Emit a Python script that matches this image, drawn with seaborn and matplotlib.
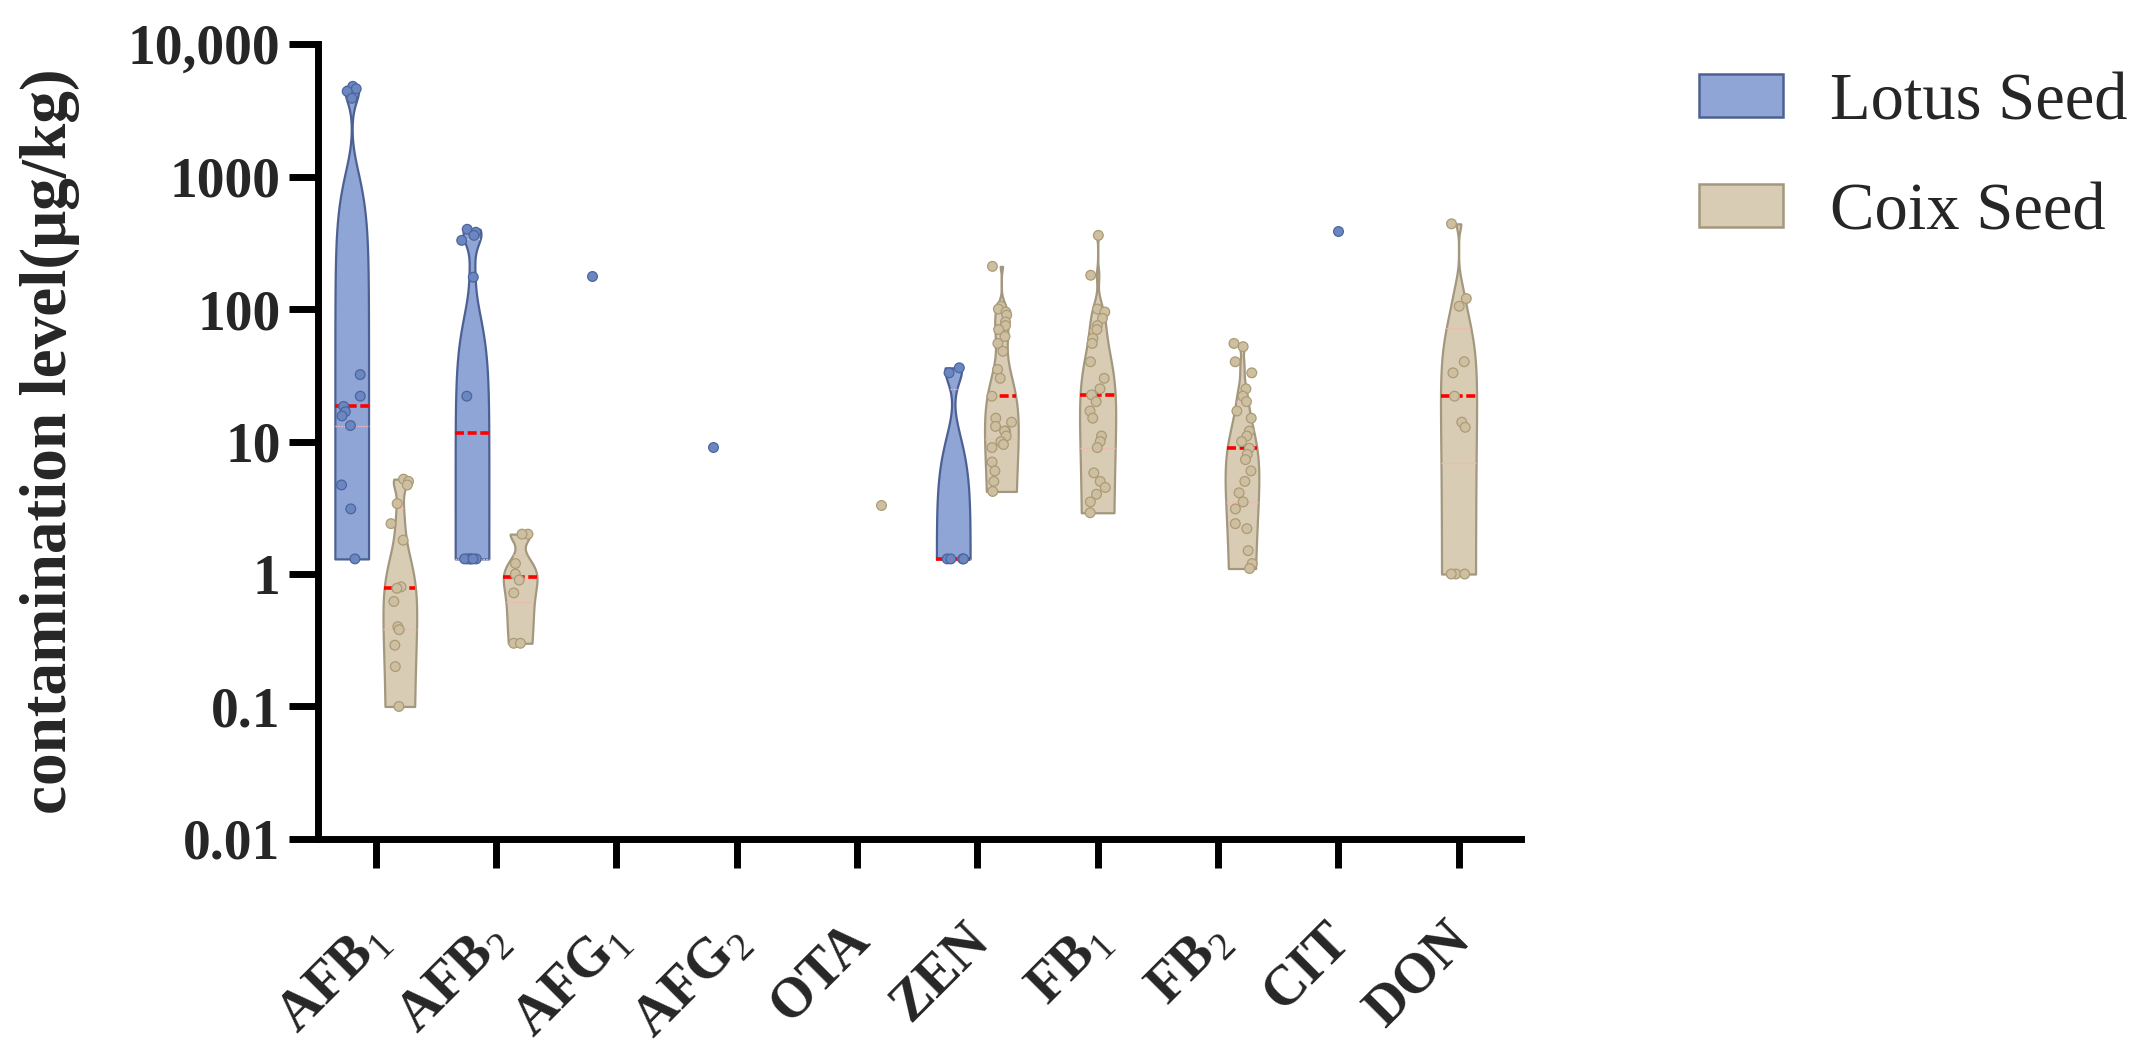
import numpy as np
import pandas as pd
import matplotlib
matplotlib.use("Agg")
import matplotlib.pyplot as plt
import matplotlib.transforms as mtransforms
import seaborn as sns
from matplotlib.patches import Patch
from matplotlib.collections import LineCollection
from matplotlib.ticker import NullLocator

# toxins on the x axis
toxins = ["AFB1", "AFB2", "AFG1", "AFG2", "OTA", "ZEN", "FB1", "FB2", "CIT", "DON"]
tick_labels = ["AFB$_{1}$", "AFB$_{2}$", "AFG$_{1}$", "AFG$_{2}$", "OTA",
               "ZEN", "FB$_{1}$", "FB$_{2}$", "CIT", "DON"]
seeds = ["Lotus Seed", "Coix Seed"]

ytick_values = [0.01, 0.1, 1, 10, 100, 1000, 10000]
ytick_labels = ["0.01", "0.1", "1", "10", "100", "1000", "10,000"]

# Lotus seed samples (ug/kg)
lotus_afb1 = [4800, 4600, 4400, 3900, 32, 22, 18.4, 16.8, 15.6, 13.2, 4.7, 3.1, 1.3]
lotus_afb2 = [400, 380, 360, 330, 174, 22, 1.3, 1.3, 1.3, 1.3, 1.3, 1.3]
lotus_afg1 = [177]
lotus_afg2 = [9.1]
lotus_ota = []
lotus_zen = [36, 33, 1.3, 1.3, 1.3, 1.3]
lotus_fb1 = []
lotus_fb2 = []
lotus_cit = [390]
lotus_don = []

# Coix seed samples (ug/kg)
coix_afb1 = [5.2, 5.0, 4.7, 3.4, 2.4, 1.8, 0.8, 0.78, 0.62, 0.4, 0.38, 0.29, 0.2, 0.1]
coix_afb2 = [2.0, 2.0, 1.2, 1.0, 0.9, 0.72, 0.3, 0.3]
coix_afg1 = []
coix_afg2 = []
coix_ota = [3.3]
coix_zen = [210, 105, 100, 95, 90, 80, 75, 70, 62, 55, 48, 35, 30, 22, 15, 14, 13,
            12, 12, 11, 10, 9.5, 9, 7, 6, 5, 4.2]
coix_fb1 = [360, 180, 100, 95, 85, 75, 70, 60, 55, 40, 30, 25, 22.5, 20, 17, 15, 11,
            10, 9, 5.8, 5, 4.5, 4, 3.5, 2.9]
coix_fb2 = [55, 52, 40, 33, 25, 22, 20, 17, 15, 12, 11, 10, 8.9, 8, 7.3, 6, 5, 4.1,
            3.5, 3.1, 2.4, 2.2, 1.5, 1.2, 1.1]
coix_cit = []
coix_don = [440, 120, 105, 40, 33, 22, 14, 12.8, 1.0, 1.0, 1.0]

lotus_all = [lotus_afb1, lotus_afb2, lotus_afg1, lotus_afg2, lotus_ota,
             lotus_zen, lotus_fb1, lotus_fb2, lotus_cit, lotus_don]
coix_all = [coix_afb1, coix_afb2, coix_afg1, coix_afg2, coix_ota,
            coix_zen, coix_fb1, coix_fb2, coix_cit, coix_don]

rows = []
for seed, groups in zip(seeds, [lotus_all, coix_all]):
    for tox, vals in zip(toxins, groups):
        for v in vals:
            rows.append({"toxin": tox, "seed": seed, "value": v})
df = pd.DataFrame(rows)
df["n"] = df.groupby(["toxin", "seed"])["value"].transform("size")

fills = {"Lotus Seed": "#8ea5d6", "Coix Seed": "#d9ccb4"}
edges = {"Lotus Seed": "#4d6093", "Coix Seed": "#a3977d"}
dots = {"Lotus Seed": "#6c86c0", "Coix Seed": "#cdbf9f"}
dot_edges = {"Lotus Seed": "#4a65a0", "Coix Seed": "#ab9b78"}
# groups drawn on the tick instead of side by side
centered = ["FB1", "CIT", "DON"]

sns.set_theme(style="ticks")
plt.rcParams["font.family"] = ["Liberation Serif", "DejaVu Serif"]
plt.rcParams["mathtext.fontset"] = "custom"
plt.rcParams["mathtext.rm"] = "Liberation Serif"
plt.rcParams["mathtext.bf"] = "Liberation Serif:bold"

fig = plt.figure(figsize=(21.43, 10.5), dpi=100)
ax = fig.add_axes([0.1484, 0.201, 0.5614, 0.757])

# density is estimated on the raw values, the axis goes to log afterwards
np.random.seed(3)
for seed in seeds:
    for mid in (False, True):
        sub = df[(df["seed"] == seed) & (df["toxin"].isin(centered) == mid)]
        if sub.empty:
            continue
        kw = dict(x="toxin", y="value", hue="seed", order=toxins, hue_order=seeds,
                  ax=ax, legend=False, dodge=not mid)
        vsub = sub[sub["n"] > 1]
        if not vsub.empty:
            sns.violinplot(data=vsub, palette=fills, saturation=1, cut=0,
                           density_norm="width", gridsize=1500, bw_adjust=0.6,
                           width=0.3 if mid else 0.8, gap=0 if mid else 0.3,
                           linewidth=1.6, linecolor=edges[seed], inner="quart",
                           inner_kws=dict(color="red", linewidth=2.6), **kw)
        sns.stripplot(data=sub, palette=dots, edgecolor=dot_edges[seed],
                      linewidth=0.9, size=7, jitter=0.07 if mid else 0.18, **kw)

# median red, quartiles faint
for coll in ax.collections:
    if isinstance(coll, LineCollection) and len(coll.get_segments()) == 3:
        coll.set_color(["#f3b4b4", "red", "#f3b4b4"])
        coll.set_linewidth([1.0, 2.6, 1.0])
if len(ax.lines) >= 3:
    for i, line in enumerate(ax.lines):
        if i % 3 != 1:
            line.set_color("#f3b4b4")
            line.set_linewidth(1.0)

ax.set_yscale("log")
ax.set_ylim(0.01, 10000)
ax.set_yticks(ytick_values)
ax.set_yticklabels(ytick_labels)
ax.yaxis.set_minor_locator(NullLocator())
ax.set_xlim(-0.48, 9.52)
ax.set_xticks(range(len(toxins)))
ax.set_xticklabels(tick_labels, rotation=45, ha="right", va="center",
                   rotation_mode="anchor")

for s in ["top", "right"]:
    ax.spines[s].set_visible(False)
for s in ["left", "bottom"]:
    ax.spines[s].set_linewidth(5)
    ax.spines[s].set_color("black")
ax.tick_params(axis="both", length=21, width=5, color="black")
ax.tick_params(axis="y", labelsize=40, pad=6)
ax.tick_params(axis="x", labelsize=40, pad=46)
shift = mtransforms.ScaledTranslation(0.04, 0, fig.dpi_scale_trans)
for lab in ax.get_xticklabels():
    lab.set_transform(lab.get_transform() + shift)
for lab in ax.get_yticklabels() + ax.get_xticklabels():
    lab.set_fontweight("bold")

ax.set_xlabel("")
ax.set_ylabel("contamination level(μg/kg)", fontsize=47, fontweight="bold")
ax.yaxis.set_label_coords(-0.198, 0.5)

handles = [Patch(facecolor=fills[s], edgecolor=edges[s], linewidth=1.8, label=s)
           for s in seeds]
fig.legend(handles=handles, loc="upper left", bbox_to_anchor=(1699 / 2143, 1 - 72 / 1050),
           frameon=False, prop=dict(family="Liberation Serif", size=48),
           handlelength=1.26, handleheight=0.61, handletextpad=0.7, labelspacing=0.74,
           borderpad=0, borderaxespad=0)

fig.savefig("out.png", dpi=100)
